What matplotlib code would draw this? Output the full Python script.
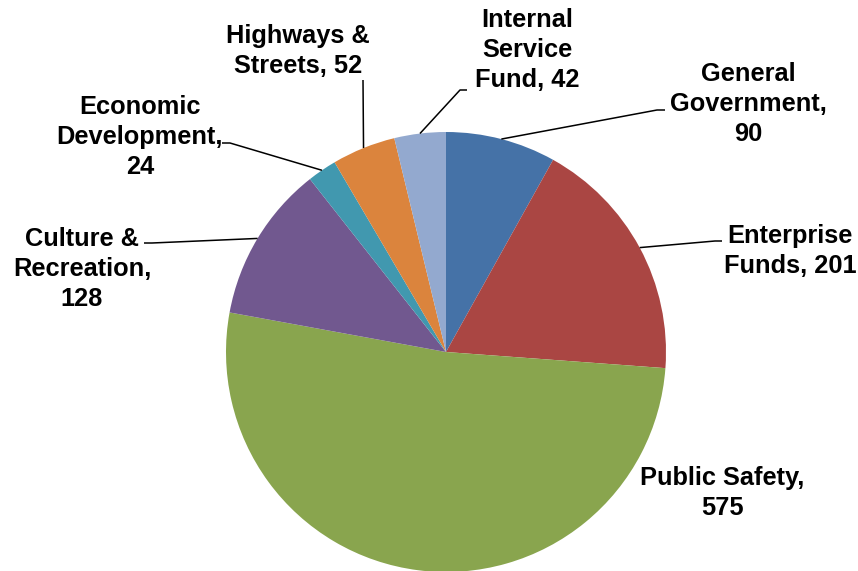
import numpy as np
import matplotlib
matplotlib.use("Agg")
import matplotlib.pyplot as plt

# Budget by function
categories = ["General\nGovernment,\n90", "Enterprise\nFunds, 201", "Public Safety,\n575",
              "Culture &\nRecreation,\n128", "Economic\nDevelopment,\n24",
              "Highways &\nStreets, 52", "Internal\nService\nFund, 42"]
values = [90, 201, 575, 128, 24, 52, 42]
colors = ["#4572A7", "#AA4643", "#89A54E", "#71588F", "#4198AF", "#DB843D", "#93A9CF"]

W, H = 858, 571
fig = plt.figure(figsize=(W / 100, H / 100), dpi=100)
ax = fig.add_axes([0, 0, 1, 1])

cx, cy, r = 446, H - 352, 220
wedges, _ = ax.pie(values, colors=colors, startangle=90, counterclock=False,
                   center=(cx, cy), radius=r, frame=True,
                   wedgeprops=dict(linewidth=0))
ax.set_xlim(0, W)
ax.set_ylim(0, H)
ax.set_aspect("equal")
ax.axis("off")

# label placement (pixel coords from top-left) and leader elbow points
label_pos = [(748, 104), (790, 251), (722, 493), (82, 269), (140, 137), (298, 51), (527, 50)]
leaders = [
    [(657, 110), (665, 110)],
    [(715, 241), (722, 241)],
    None,
    [(152, 243), (144, 243)],
    [(230, 143), (222, 143)],
    [(363, 80)],
    [(460, 90), (467, 90)],
]

font = dict(family="Liberation Sans", weight="bold", size=18.3)
for w, lab, (tx, ty), lead in zip(wedges, categories, label_pos, leaders):
    ax.text(tx, H - ty, lab, ha="center", va="center", multialignment="center",
            linespacing=1.3, color="black", **font)
    if lead is None:
        continue
    mid = np.deg2rad((w.theta1 + w.theta2) / 2)
    sx, sy = cx + r * np.cos(mid), cy + r * np.sin(mid)
    xs = [sx] + [p[0] for p in lead]
    ys = [sy] + [H - p[1] for p in lead]
    ax.plot(xs, ys, color="black", lw=1.1, solid_capstyle="butt")

fig.savefig("out.png", dpi=100, facecolor="white")
